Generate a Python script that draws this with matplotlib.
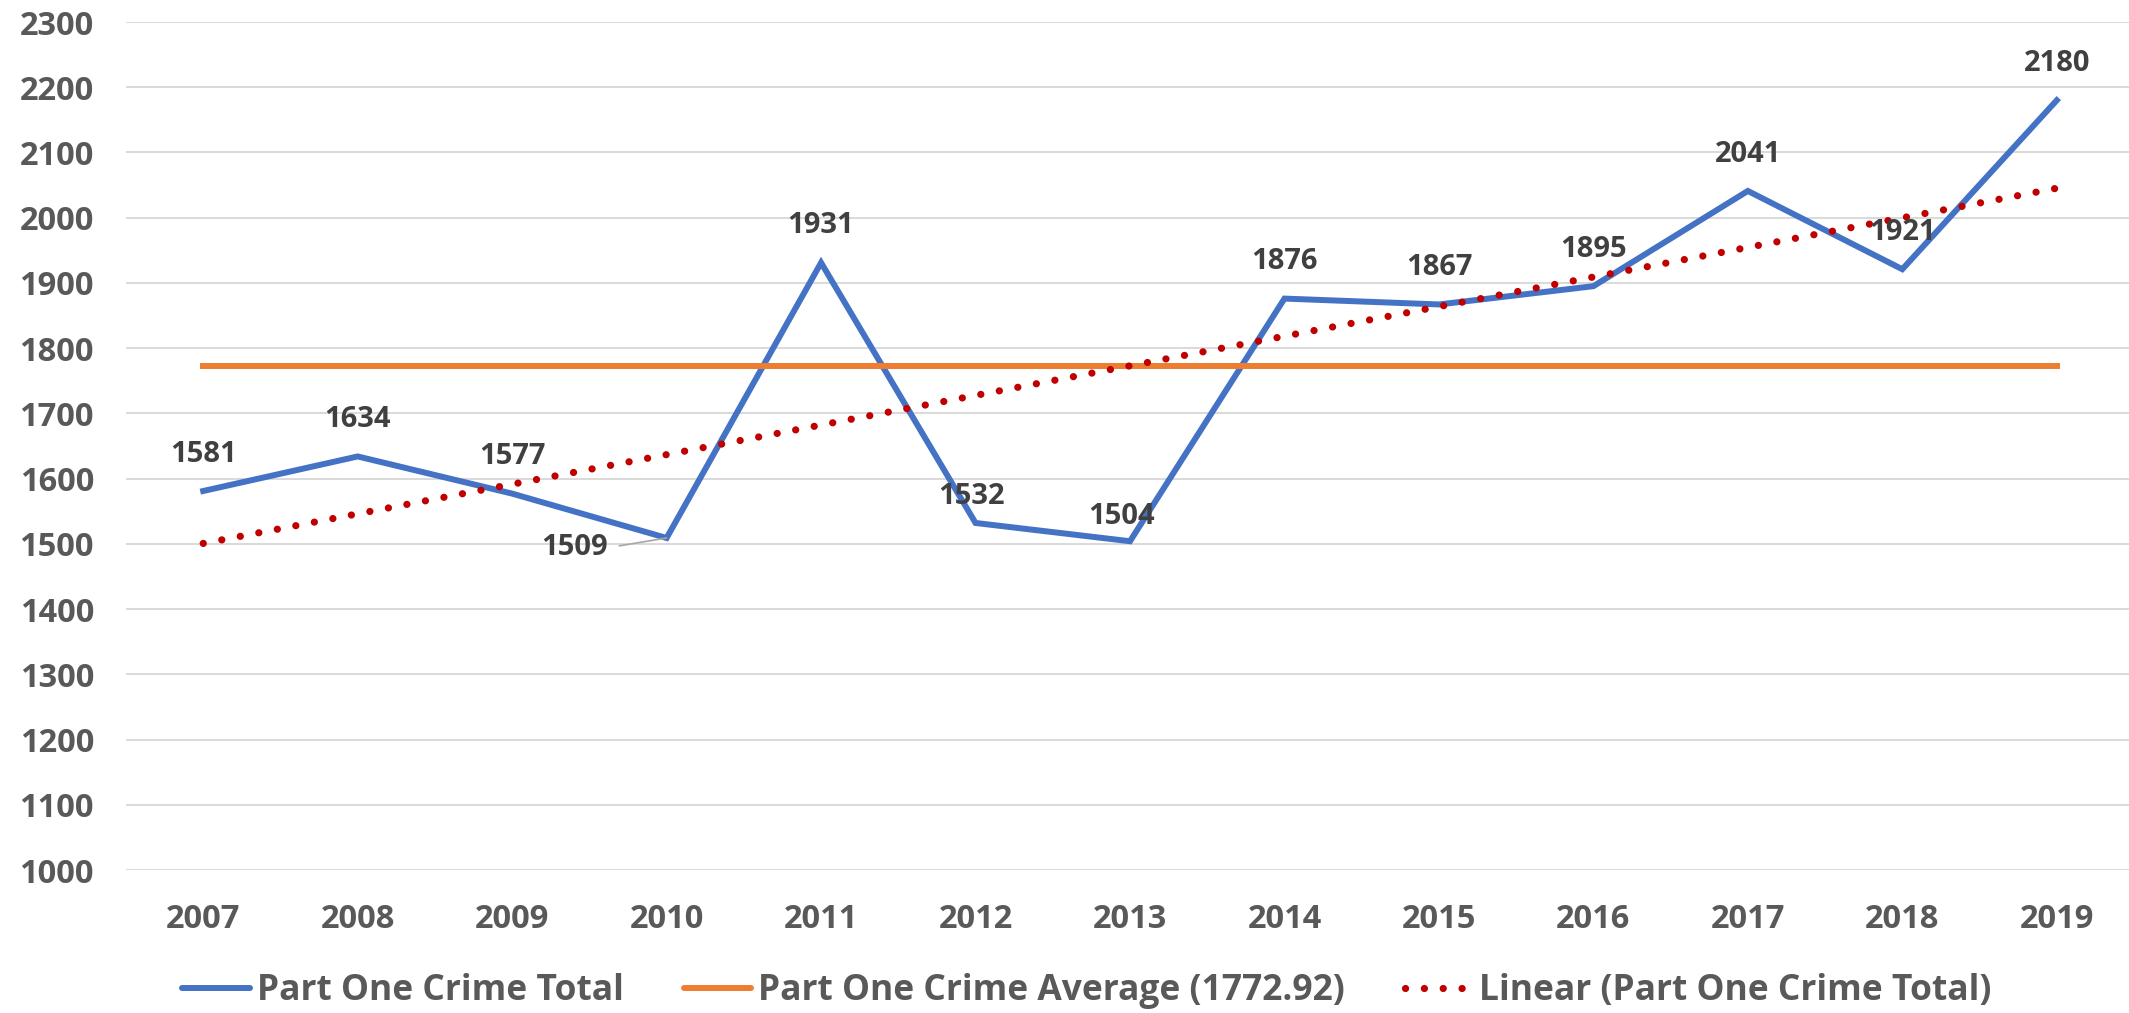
import numpy as np
import matplotlib
matplotlib.use("Agg")
import matplotlib.pyplot as plt
from matplotlib.lines import Line2D

years = ["2007", "2008", "2009", "2010", "2011", "2012", "2013",
         "2014", "2015", "2016", "2017", "2018", "2019"]
crime_total = [1581, 1634, 1577, 1509, 1931, 1532, 1504,
               1876, 1867, 1895, 2041, 1921, 2180]
y_ticks = [1000, 1100, 1200, 1300, 1400, 1500, 1600, 1700,
           1800, 1900, 2000, 2100, 2200, 2300]
legend_labels = ["Part One Crime Total",
                 "Part One Crime Average (1772.92)",
                 "Linear (Part One Crime Total)"]

plt.rcParams['font.family'] = ['Open Sans', 'DejaVu Sans']
plt.rcParams['font.weight'] = 'bold'

W, H = 2129, 1013
fig = plt.figure(figsize=(W / 100, H / 100), dpi=100)
ax = fig.add_axes([126 / W, (H - 870) / H, 2008 / W, (870 - 22) / H])

x = np.arange(len(years))
vals = np.array(crime_total, dtype=float)
avg = vals.mean()
coef = np.polyfit(x, vals, 1)
trend = np.polyval(coef, x)

BLUE = "#4472C4"
ORANGE = "#ED7D31"
RED = "#C00000"

DOTS = (0, (0.01, 2.6))

ax.plot(x, vals, color=BLUE, lw=4.3, solid_joinstyle='miter', zorder=3)
ax.plot(x, np.full_like(x, avg, dtype=float), color=ORANGE, lw=4.3, zorder=4)
ax.plot(x, trend, color=RED, lw=5.2, linestyle=DOTS,
        dash_capstyle='round', zorder=5)

ax.set_xlim(-0.5, len(years) - 0.5)
ax.set_ylim(y_ticks[0], y_ticks[-1])
ax.set_yticks(y_ticks)
ax.set_xticks(x)
ax.set_xticklabels(years)
ax.yaxis.grid(True, color="#D9D9D9", lw=1.4)
ax.set_axisbelow(True)
for s in ax.spines.values():
    s.set_visible(False)
ax.tick_params(axis='both', length=0, labelsize=23.5, labelcolor="#595959")
ax.tick_params(axis='y', pad=23)
ax.tick_params(axis='x', pad=24)

# data labels (offsets in points)
offsets = {5: (-3, 19), 6: (-6, 18)}
for i, v in enumerate(crime_total):
    if i == 3:
        ax.annotate(str(v), xy=(i, v), xytext=(-66, -7), textcoords='offset points',
                    ha='center', va='center', fontsize=21, color="#404040",
                    fontweight='bold', zorder=6,
                    arrowprops=dict(arrowstyle='-', color="#A6A6A6", lw=1.2,
                                    relpos=(1.0, 0.5), shrinkA=6, shrinkB=0))
        continue
    dx, dy = offsets.get(i, (0, 26.5))
    ax.annotate(str(v), xy=(i, v), xytext=(dx, dy), textcoords='offset points',
                ha='center', va='center', fontsize=21, color="#404040",
                fontweight='bold', zorder=6)

handles = [
    Line2D([], [], color=BLUE, lw=4.3, solid_capstyle='round'),
    Line2D([], [], color=ORANGE, lw=4.3, solid_capstyle='round'),
    Line2D([], [], color=RED, lw=5.2, linestyle=DOTS, dash_capstyle='round'),
]
leg = fig.legend(handles, legend_labels, loc='center', bbox_to_anchor=(1087 / W, 1 - 991 / H),
                 ncol=3, frameon=False, fontsize=25.5, handlelength=1.9,
                 handletextpad=0.2, columnspacing=1.7, borderpad=0)
for t in leg.get_texts():
    t.set_color("#595959")
    t.set_fontweight('bold')

fig.savefig("out.png", dpi=100)
